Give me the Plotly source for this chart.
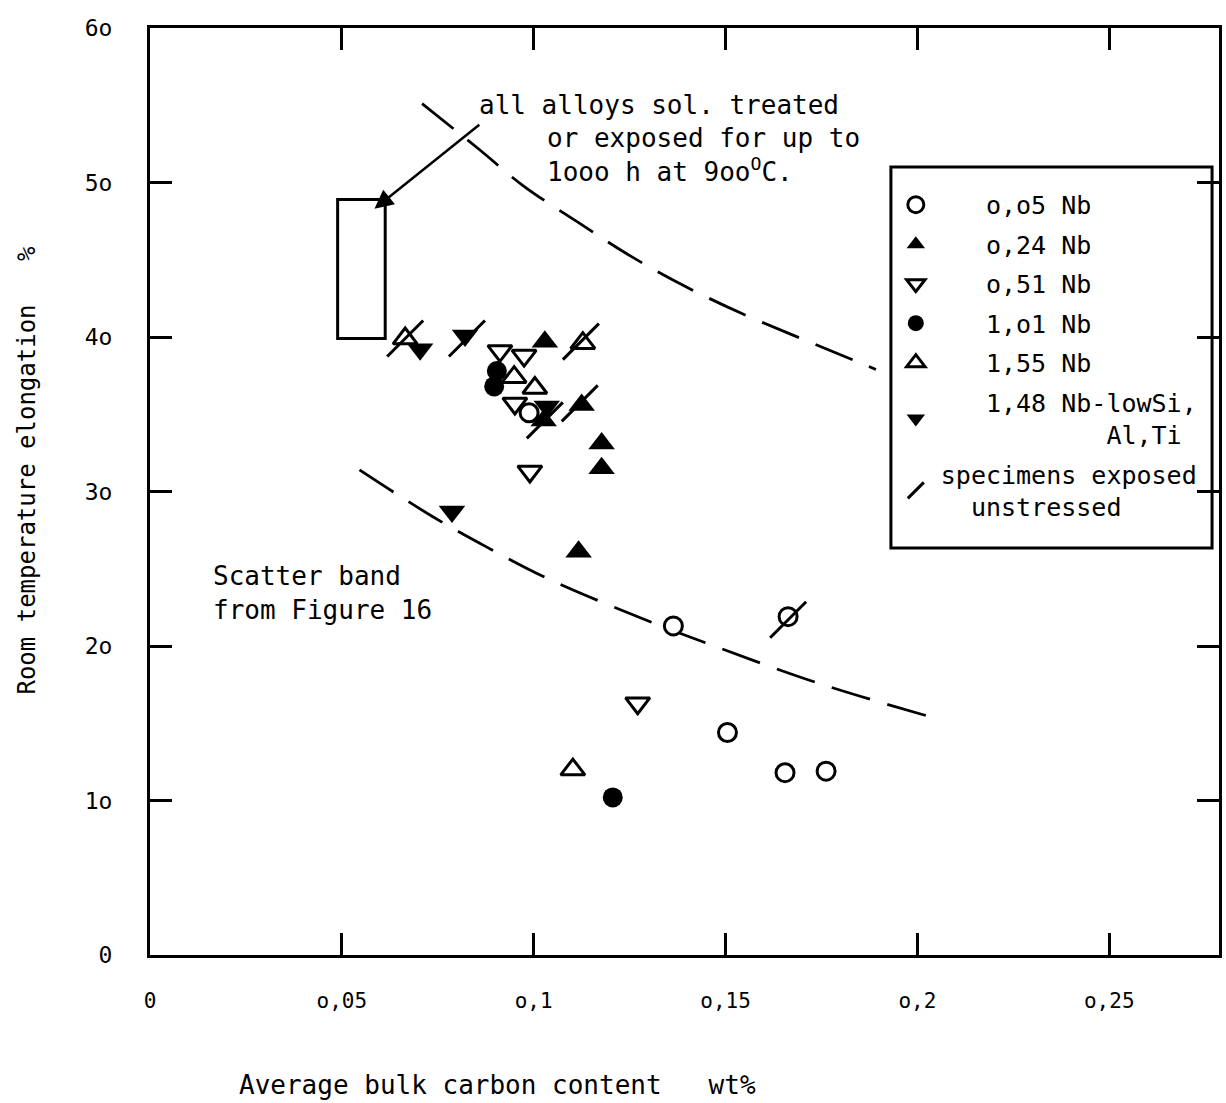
import plotly.graph_objects as go

MONO = "DejaVu Sans Mono"

# ---------------- data ----------------
nb005_x = [0.1364, 0.1505, 0.1655, 0.1762, 0.1663, 0.0988]
nb005_y = [21.3, 14.4, 11.8, 11.9, 21.9, 35.1]

nb024_x = [0.1029, 0.1125, 0.1177, 0.1177, 0.1117, 0.1026]
nb024_y = [39.7, 35.6, 33.1, 31.5, 26.1, 34.6]

nb051_x = [0.1271, 0.0990, 0.0912, 0.0975, 0.0951]
nb051_y = [16.3, 31.3, 39.1, 38.8, 35.7]

nb101_x = [0.1206, 0.0904, 0.0897]
nb101_y = [10.2, 37.8, 36.8]

nb155_x = [0.1102, 0.0665, 0.1128, 0.0949, 0.1003]
nb155_y = [12.0, 39.9, 39.6, 37.4, 36.7]

nb148_x = [0.0787, 0.0704, 0.0821, 0.1034]
nb148_y = [28.7, 39.2, 40.1, 35.5]

exposed_x = [0.0665, 0.0826, 0.1123, 0.1120, 0.1663, 0.1029]
exposed_y = [39.9, 39.9, 39.7, 35.7, 21.7, 34.6]

upper_band_x = [0.0709, 0.0855, 0.0972, 0.1117, 0.1255, 0.1393, 0.1544, 0.1697, 0.1892]
upper_band_y = [55.1, 52.2, 49.8, 47.4, 45.2, 43.3, 41.5, 39.9, 37.9]

lower_band_x = [0.0546, 0.0735, 0.0878, 0.1042, 0.1281, 0.1481, 0.1741, 0.2022]
lower_band_y = [31.4, 28.4, 26.4, 24.3, 21.8, 19.9, 17.6, 15.5]

box_x = [0.0489, 0.0613]
box_y = [39.9, 48.9]

x_tickvals = [0, 0.05, 0.1, 0.15, 0.2, 0.25]
x_ticktext = ["0", "o,05", "o,1", "o,15", "o,2", "o,25"]
y_tickvals = [0, 10, 20, 30, 40, 50, 60]
y_ticktext = ["0", "1o", "2o", "3o", "4o", "5o", "6o"]

NBSP = "\u00a0"
pad = NBSP * 3

fig = go.Figure()

# scatter band curves
for bx, by in [(upper_band_x, upper_band_y), (lower_band_x, lower_band_y)]:
    fig.add_trace(go.Scatter(x=bx, y=by, mode="lines", showlegend=False,
                             line=dict(color="black", width=2.8, dash="40px,18px", shape="spline"),
                             hoverinfo="skip"))

def add_series(xs, ys, name, symbol, filled, size, rank):
    fig.add_trace(go.Scatter(
        x=xs, y=ys, mode="markers", name=name, legendgroup=name, legendrank=rank,
        marker=dict(symbol=symbol, size=size,
                    color="black" if filled else "white",
                    line=dict(color="black", width=0 if filled else 3)),
    ))

# draw order: filled first, open on top
add_series(nb101_x, nb101_y, pad + "1,o1 Nb", "circle", True, 20, 4)
add_series(nb024_x, nb024_y, pad + "o,24 Nb", "triangle-up", True, 23, 2)
add_series(nb148_x, nb148_y, pad + "1,48 Nb-lowSi,<br>" + NBSP * 11 + "Al,Ti", "triangle-down", True, 23, 6)
add_series(nb051_x, nb051_y, pad + "o,51 Nb", "triangle-down", False, 21, 3)
add_series(nb155_x, nb155_y, pad + "1,55 Nb", "triangle-up", False, 21, 5)
add_series(nb005_x, nb005_y, pad + "o,o5 Nb", "circle", False, 18, 1)

fig.add_trace(go.Scatter(
    x=exposed_x, y=exposed_y, mode="markers",
    name="specimens exposed<br>" + NBSP * 2 + "unstressed",
    legendgroup="exp", legendrank=7,
    marker=dict(symbol="line-ne", size=36, color="black", line=dict(color="black", width=3)),
))

# rectangle (all alloys sol. treated)
fig.add_shape(type="rect", xref="x", yref="y", x0=box_x[0], x1=box_x[1], y0=box_y[0], y1=box_y[1],
              line=dict(color="black", width=3), fillcolor="rgba(0,0,0,0)")

# legend frame
fig.add_shape(type="rect", xref="paper", yref="paper", x0=0.6931, x1=0.9935, y0=0.4390, y1=0.8500,
              line=dict(color="black", width=3), fillcolor="rgba(0,0,0,0)", layer="above")

ann_font = dict(family=MONO, size=26, color="black")
fig.add_annotation(x=0.0852, y=55.0, xref="x", yref="y", text="all alloys sol. treated",
                   showarrow=False, xanchor="left", yanchor="middle", font=ann_font)
fig.add_annotation(x=0.1029, y=52.9, xref="x", yref="y", text="or exposed for up to",
                   showarrow=False, xanchor="left", yanchor="middle", font=ann_font)
fig.add_annotation(x=0.1029, y=50.8, xref="x", yref="y", text="1ooo h at 9oo<sup>O</sup>C.",
                   showarrow=False, xanchor="left", yanchor="middle", font=ann_font)
fig.add_annotation(x=0.0585, y=48.3, xref="x", yref="y", ax=0.0866, ay=53.9, axref="x", ayref="y",
                   text=" ", showarrow=True, arrowhead=2, arrowsize=1.5, arrowwidth=2.5,
                   arrowcolor="black")
fig.add_annotation(x=0.0159, y=23.4, xref="x", yref="y", text="Scatter band<br>from Figure 16",
                   showarrow=False, xanchor="left", yanchor="middle", align="left", font=ann_font)

# axis titles
fig.add_annotation(x=0.0812, y=-0.1402, xref="paper", yref="paper",
                   text="Average bulk carbon content" + NBSP * 3 + "wt%",
                   showarrow=False, xanchor="left", yanchor="middle", font=ann_font)
fig.add_annotation(x=-0.1147, y=0.523, xref="paper", yref="paper", textangle=-90,
                   text="Room temperature elongation" + NBSP * 3 + "%",
                   showarrow=False, xanchor="center", yanchor="middle",
                   font=dict(family=MONO, size=24, color="black"))

axis_common = dict(showline=True, linewidth=3, linecolor="black", mirror="ticks",
                   ticks="inside", ticklen=22, tickwidth=2.5, tickcolor="black",
                   showgrid=False, zeroline=False)

fig.update_xaxes(range=[0, 0.2786], tickmode="array", tickvals=x_tickvals, ticktext=x_ticktext,
                 ticklabelstandoff=25, tickfont=dict(family=MONO, size=21, color="black"),
                 **axis_common)
fig.update_yaxes(range=[0, 60], tickmode="array", tickvals=y_tickvals, ticktext=y_ticktext,
                 ticklabelstandoff=30, tickfont=dict(family=MONO, size=23, color="black"),
                 **axis_common)

fig.update_layout(
    width=1226, height=1103, autosize=False,
    margin=dict(l=150, r=4, t=28, b=148),
    paper_bgcolor="white", plot_bgcolor="white",
    legend=dict(x=0.693, y=0.834, xanchor="left", yanchor="top",
                borderwidth=0, bgcolor="rgba(0,0,0,0)",
                font=dict(family=MONO, size=25, color="black"),
                traceorder="grouped", tracegroupgap=4, itemwidth=40),
    showlegend=True,
)

fig.write_html("out.html")
